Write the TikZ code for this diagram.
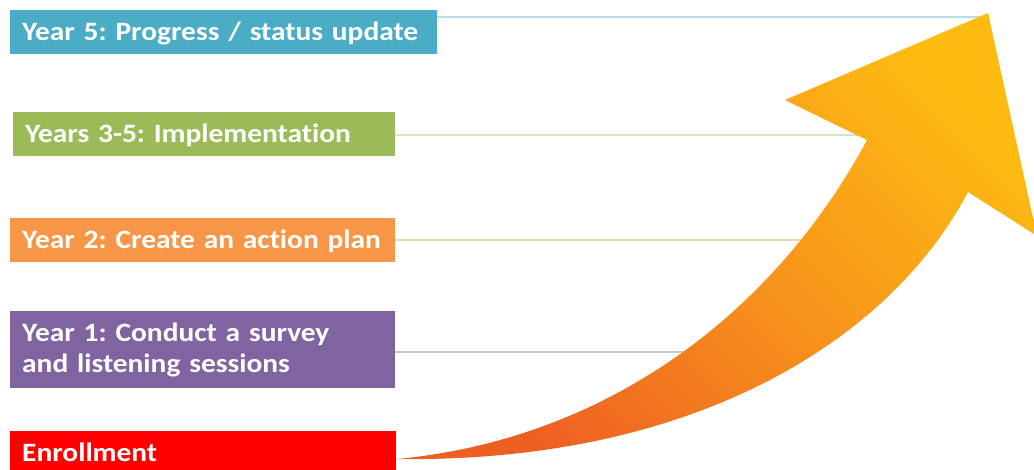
\documentclass[tikz,border=0pt]{standalone}
\usepackage{fontspec}
\setmainfont{Carlito}[FakeStretch=1.11,Ligatures=NoCommon]
\frenchspacing
\definecolor{yearfive}{HTML}{4BACC6}
\definecolor{yearsthree}{HTML}{9BBB59}
\definecolor{yeartwo}{HTML}{F79646}
\definecolor{yearone}{HTML}{8064A2}
\definecolor{enroll}{HTML}{FF0000}
\definecolor{linefive}{HTML}{B7DDE8}
\definecolor{linethree}{HTML}{D7E4BD}
\definecolor{linetwo}{HTML}{FBD5B5}
\definecolor{lineone}{HTML}{CCC1DA}
\definecolor{arrowlow}{HTML}{EE5F22}
\definecolor{arrowmid}{HTML}{F7921C}
\definecolor{arrowhigh}{HTML}{FDBB12}

\begin{document}
\begin{tikzpicture}[x=1pt,y=-1pt,
    stage/.style={fill=#1,text=white,anchor=north west,align=left,
      inner xsep=12pt,inner ysep=0pt,font=\bfseries\fontsize{26.5}{31}\selectfont},
    oneline/.style={minimum height=44pt,text height=20pt,text depth=3pt},
    guide/.style={draw=#1,line width=1.5pt}]

  \path[use as bounding box,clip] (0,0) rectangle (1034,470);

  % stages
  \node[stage=yearfive,oneline,text width=403pt] (y5) at (10,10) {Year 5: Progress / status update};
  \node[stage=yearsthree,oneline,text width=358pt] (y35) at (13,112) {Years 3-5: Implementation};
  \node[stage=yeartwo,oneline,text width=361pt] (y2) at (10,218) {Year 2: Create an action plan};
  \node[stage=yearone,minimum height=77pt,text width=361pt] (y1) at (10,311) {Year 1: Conduct a survey\\and listening sessions};
  \node[stage=enroll,oneline,text width=362pt] (en) at (10,431) {Enrollment};

  % guide lines
  \coordinate (e5) at (984,17);
  \coordinate (e35) at (900,135);
  \coordinate (e2) at (850,240);
  \coordinate (e1) at (720,352);
  \draw[guide=linefive] (e5 -| y5.east) -- (e5);
  \draw[guide=linethree] (e35 -| y35.east) -- (e35);
  \draw[guide=linetwo] (e2 -| y2.east) -- (e2);
  \draw[guide=lineone] (e1 -| y1.east) -- (e1);

  % growth arrow
  \coordinate (tail) at (397,459);
  \shade[top color=arrowhigh,bottom color=arrowlow,middle color=arrowmid,shading angle=-45]
    (tail) .. controls (600,440) and (770,320) .. (867,140) -- (785,100) -- (988,13)
    -- (1037,236) -- (968,192) .. controls (890,340) and (695,463) .. (tail) -- cycle;

\end{tikzpicture}
\end{document}
